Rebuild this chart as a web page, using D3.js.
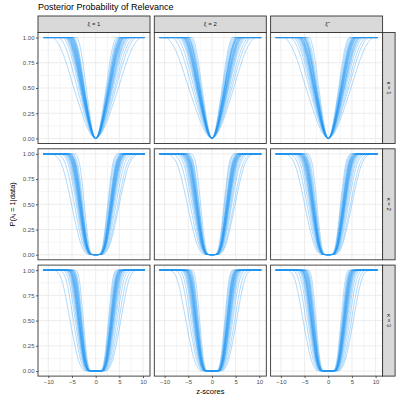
<!DOCTYPE html>
<html><head><meta charset="utf-8">
<script src="https://cdn.jsdelivr.net/npm/d3@7"></script>
<style>body{margin:0;background:#fff}svg{display:block;font-family:"Liberation Sans",Arial,sans-serif}</style>
</head><body><svg id="c" width="399" height="399"></svg>
<script>
// ---- data ----
const colLabels = ["ξ = 1", "ξ = 2", "ξ̃"];
const rowLabels = ["κ = 1", "κ = 2", "κ = 3"];
const xTicks = [-10, -5, 0, 5, 10];
const xTickLabels = ["−10", "−5", "0", "5", "10"];
const yTicks = [0, 0.25, 0.5, 0.75, 1];
const yTickLabels = ["0.00", "0.25", "0.50", "0.75", "1.00"];
const zRange = [-11.1, 10.4];
// curve profile per kappa row: u = |z| / half-width, p = posterior prob.
const shapeU = [
  [0, 0.25, 0.5, 0.75, 1, 1.25, 1.5, 1.75, 2.0],
  [0, 0.3, 0.45, 0.6, 0.8, 1, 1.2, 1.4, 1.6, 1.85],
  [0, 0.4, 0.55, 0.7, 0.85, 1, 1.15, 1.3, 1.45, 1.65]
];
const shapeP = [
  [0, 0.05, 0.17, 0.33, 0.5, 0.68, 0.84, 0.95, 1],
  [0, 0.004, 0.03, 0.1, 0.28, 0.5, 0.72, 0.89, 0.97, 1],
  [0, 0.003, 0.035, 0.13, 0.3, 0.5, 0.71, 0.88, 0.97, 1]
];
// half-widths (z where p = 0.5) of each curve, left and right side, per row then column
const leftK1 = [
  [2.0,2.3,2.4,2.45,2.5,2.55,2.6,2.65,2.7,2.75,2.8,2.85,2.9,2.95,3.0,3.05,3.1,3.2,3.3,3.5,3.9,4.6],
  [2.1,2.3,2.45,2.5,2.55,2.6,2.7,2.75,2.8,2.85,2.9,2.95,3.0,3.05,3.1,3.15,3.25,3.35,3.5,3.8,4.2,4.9],
  [2.0,2.25,2.4,2.5,2.55,2.6,2.65,2.7,2.8,2.85,2.9,2.95,3.0,3.05,3.1,3.15,3.25,3.35,3.5,3.7,4.0,4.7]
];
const rightK1 = [
  [2.9,2.5,3.3,2.6,4.0,2.75,3.0,2.4,3.5,2.8,3.1,2.2,4.8,2.85,3.4,2.65,3.05,4.3,2.95,3.2,2.7,3.7],
  [2.8,2.45,3.2,2.6,3.9,2.7,3.0,2.3,3.45,2.75,3.1,2.15,4.6,2.9,3.35,2.6,3.05,4.2,2.95,3.2,2.65,3.6],
  [2.9,2.5,3.3,2.6,4.0,2.75,3.0,2.35,3.5,2.8,3.15,2.2,4.8,2.85,3.4,2.65,3.05,4.3,2.95,3.25,2.7,3.7]
];
const leftK2 = [
  [2.4,2.7,2.85,2.95,3.0,3.05,3.1,3.15,3.2,3.25,3.3,3.35,3.4,3.45,3.5,3.55,3.65,3.75,3.9,4.1,4.5,5.1],
  [2.4,2.7,2.8,2.9,3.0,3.05,3.1,3.15,3.2,3.25,3.3,3.35,3.4,3.45,3.55,3.6,3.7,3.8,3.95,4.2,4.6,5.2],
  [2.4,2.65,2.8,2.9,3.0,3.05,3.1,3.15,3.2,3.25,3.3,3.35,3.4,3.45,3.5,3.6,3.65,3.75,3.9,4.15,4.5,5.0]
];
const rightK2 = [
  [3.3,2.9,3.6,3.0,4.3,3.1,3.4,2.7,3.8,3.2,3.5,2.55,5.0,3.25,3.7,3.05,3.45,4.7,3.35,3.55,3.15,4.0],
  [3.3,2.9,3.6,3.0,4.2,3.1,3.4,2.7,3.8,3.2,3.5,2.55,4.9,3.25,3.7,3.05,3.45,4.6,3.35,3.55,3.15,4.0],
  [3.3,2.9,3.6,3.0,4.3,3.1,3.4,2.75,3.85,3.2,3.5,2.6,5.0,3.25,3.7,3.05,3.45,4.7,3.35,3.55,3.15,4.05]
];
const leftK3 = [
  [2.6,2.85,2.95,3.05,3.1,3.15,3.2,3.3,3.35,3.4,3.45,3.5,3.55,3.6,3.65,3.7,3.8,3.9,4.05,4.3,4.7,5.4],
  [2.6,2.85,2.95,3.05,3.1,3.2,3.25,3.3,3.35,3.4,3.45,3.5,3.55,3.6,3.7,3.75,3.85,3.95,4.1,4.4,4.8,5.5],
  [2.6,2.8,2.95,3.0,3.1,3.15,3.2,3.25,3.35,3.4,3.45,3.5,3.55,3.6,3.65,3.7,3.8,3.9,4.05,4.3,4.7,5.3]
];
const rightK3 = [
  [3.4,3.0,3.75,3.1,4.5,3.2,3.5,2.85,4.0,3.3,3.6,2.7,5.3,3.35,3.85,3.15,3.55,4.9,3.45,3.7,3.25,4.2],
  [3.4,3.0,3.75,3.1,4.4,3.2,3.5,2.85,3.95,3.3,3.6,2.7,5.2,3.35,3.85,3.15,3.55,4.8,3.45,3.7,3.25,4.15],
  [3.4,3.0,3.75,3.1,4.5,3.2,3.5,2.9,4.0,3.3,3.6,2.7,5.3,3.35,3.85,3.15,3.55,4.9,3.45,3.7,3.25,4.2]
];
const leftW = [leftK1, leftK2, leftK3];
const rightW = [rightK1, rightK2, rightK3];

// ---- layout ----
const svg = d3.select("#c");
const px0 = 38, pw = 112, stepX = 116.3;
const py0 = 32.5, ph = 111, stepY = 116.3;
const stripTop = 16, stripH = 16.5, rStripW = 12.5;
const font = 6, grey30 = "#4d4d4d", grey20 = "#333333";

const span = zRange[1] - zRange[0];
const x = d3.scaleLinear().domain([zRange[0] - 0.05 * span, zRange[1] + 0.05 * span]).range([0, pw]);
const y = d3.scaleLinear().domain([-0.05, 1.05]).range([ph, 0]);
const xMinor = [-7.5, -2.5, 2.5, 7.5];
const yMinor = [0.125, 0.375, 0.625, 0.875];

const line = d3.line().x(d => x(d[0])).y(d => y(d[1])).curve(d3.curveMonotoneX);

function curvePoints(r, wl, wr) {
  const U = shapeU[r], P = shapeP[r];
  const pts = [[zRange[0], 1]];
  for (let i = U.length - 1; i >= 0; i--) {
    const z = -U[i] * wl;
    if (z > zRange[0]) pts.push([z, P[i]]);
  }
  for (let i = 1; i < U.length; i++) {
    const z = U[i] * wr;
    if (z < zRange[1]) pts.push([z, P[i]]);
  }
  pts.push([zRange[1], 1]);
  return pts;
}

// title
svg.append("text").attr("x", 38).attr("y", 10).attr("font-size", 9).attr("fill", "#000")
  .text("Posterior Probability of Relevance");

for (let r = 0; r < 3; r++) {
  for (let c = 0; c < 3; c++) {
    const g = svg.append("g").attr("transform", `translate(${px0 + c * stepX},${py0 + r * stepY})`);
    g.append("rect").attr("width", pw).attr("height", ph).attr("fill", "#fff");
    g.selectAll(".mx").data(xMinor).join("line").attr("x1", d => x(d)).attr("x2", d => x(d))
      .attr("y1", 0).attr("y2", ph).attr("stroke", "#ebebeb").attr("stroke-width", 0.5);
    g.selectAll(".my").data(yMinor).join("line").attr("y1", d => y(d)).attr("y2", d => y(d))
      .attr("x1", 0).attr("x2", pw).attr("stroke", "#ebebeb").attr("stroke-width", 0.5);
    g.selectAll(".Mx").data(xTicks).join("line").attr("x1", d => x(d)).attr("x2", d => x(d))
      .attr("y1", 0).attr("y2", ph).attr("stroke", "#ebebeb").attr("stroke-width", 0.9);
    g.selectAll(".My").data(yTicks).join("line").attr("y1", d => y(d)).attr("y2", d => y(d))
      .attr("x1", 0).attr("x2", pw).attr("stroke", "#ebebeb").attr("stroke-width", 0.9);
    const wl = leftW[r][c], wr = rightW[r][c];
    g.selectAll(".crv").data(d3.range(wl.length)).join("path")
      .attr("d", i => line(curvePoints(r, wl[i], wr[i])))
      .attr("fill", "none").attr("stroke", "#2196F3").attr("stroke-width", 0.9).attr("stroke-opacity", 0.38);
    g.append("rect").attr("width", pw).attr("height", ph).attr("fill", "none")
      .attr("stroke", grey20).attr("stroke-width", 0.9);

    if (c === 0) {
      const ay = g.append("g").call(d3.axisLeft(y).tickValues(yTicks).tickSize(2).tickPadding(1.5)
        .tickFormat((d, i) => yTickLabels[i]));
      ay.select(".domain").remove();
      ay.selectAll("line").attr("stroke", grey20).attr("stroke-width", 0.8);
      ay.selectAll("text").attr("font-size", font).attr("fill", grey30).attr("font-family", "Liberation Sans, Arial, sans-serif");
    }
    if (r === 2) {
      const ax = g.append("g").attr("transform", `translate(0,${ph})`)
        .call(d3.axisBottom(x).tickValues(xTicks).tickSize(2).tickPadding(1.5)
          .tickFormat((d, i) => xTickLabels[i]));
      ax.select(".domain").remove();
      ax.selectAll("line").attr("stroke", grey20).attr("stroke-width", 0.8);
      ax.selectAll("text").attr("font-size", font).attr("fill", grey30).attr("font-family", "Liberation Sans, Arial, sans-serif");
    }
  }
}

colLabels.forEach((lab, c) => {
  const x0 = px0 + c * stepX;
  svg.append("rect").attr("x", x0).attr("y", stripTop).attr("width", pw).attr("height", stripH)
    .attr("fill", "#d9d9d9").attr("stroke", grey20).attr("stroke-width", 0.9);
  svg.append("text").attr("x", x0 + pw / 2).attr("y", stripTop + stripH / 2).attr("dy", "0.35em")
    .attr("text-anchor", "middle").attr("font-size", font).attr("fill", "#1a1a1a").text(lab);
});
rowLabels.forEach((lab, r) => {
  const y0 = py0 + r * stepY;
  const sx = px0 + 2 * stepX + pw;
  svg.append("rect").attr("x", sx).attr("y", y0).attr("width", rStripW).attr("height", ph)
    .attr("fill", "#d9d9d9").attr("stroke", grey20).attr("stroke-width", 0.9);
  svg.append("text").attr("transform", `translate(${sx + rStripW / 2},${y0 + ph / 2}) rotate(90)`)
    .attr("dy", "0.35em").attr("text-anchor", "middle").attr("font-size", font).attr("fill", "#1a1a1a").text(lab);
});

const plotCx = px0 + (2 * stepX + pw) / 2;
svg.append("text").attr("x", plotCx).attr("y", 391).attr("dy", "0.35em").attr("text-anchor", "middle")
  .attr("font-size", 7.5).attr("fill", "#000").text("z-scores");
const plotCy = py0 + (2 * stepY + ph) / 2;
const yl = svg.append("text").attr("transform", `translate(12,${plotCy}) rotate(-90)`)
  .attr("dy", "0.35em").attr("text-anchor", "middle").attr("font-size", 7.5).attr("fill", "#000");
yl.append("tspan").text("P(λ");
yl.append("tspan").attr("font-size", 5.5).attr("baseline-shift", "-20%").text("i");
yl.append("tspan").text(" = 1|data)");
</script></body></html>
